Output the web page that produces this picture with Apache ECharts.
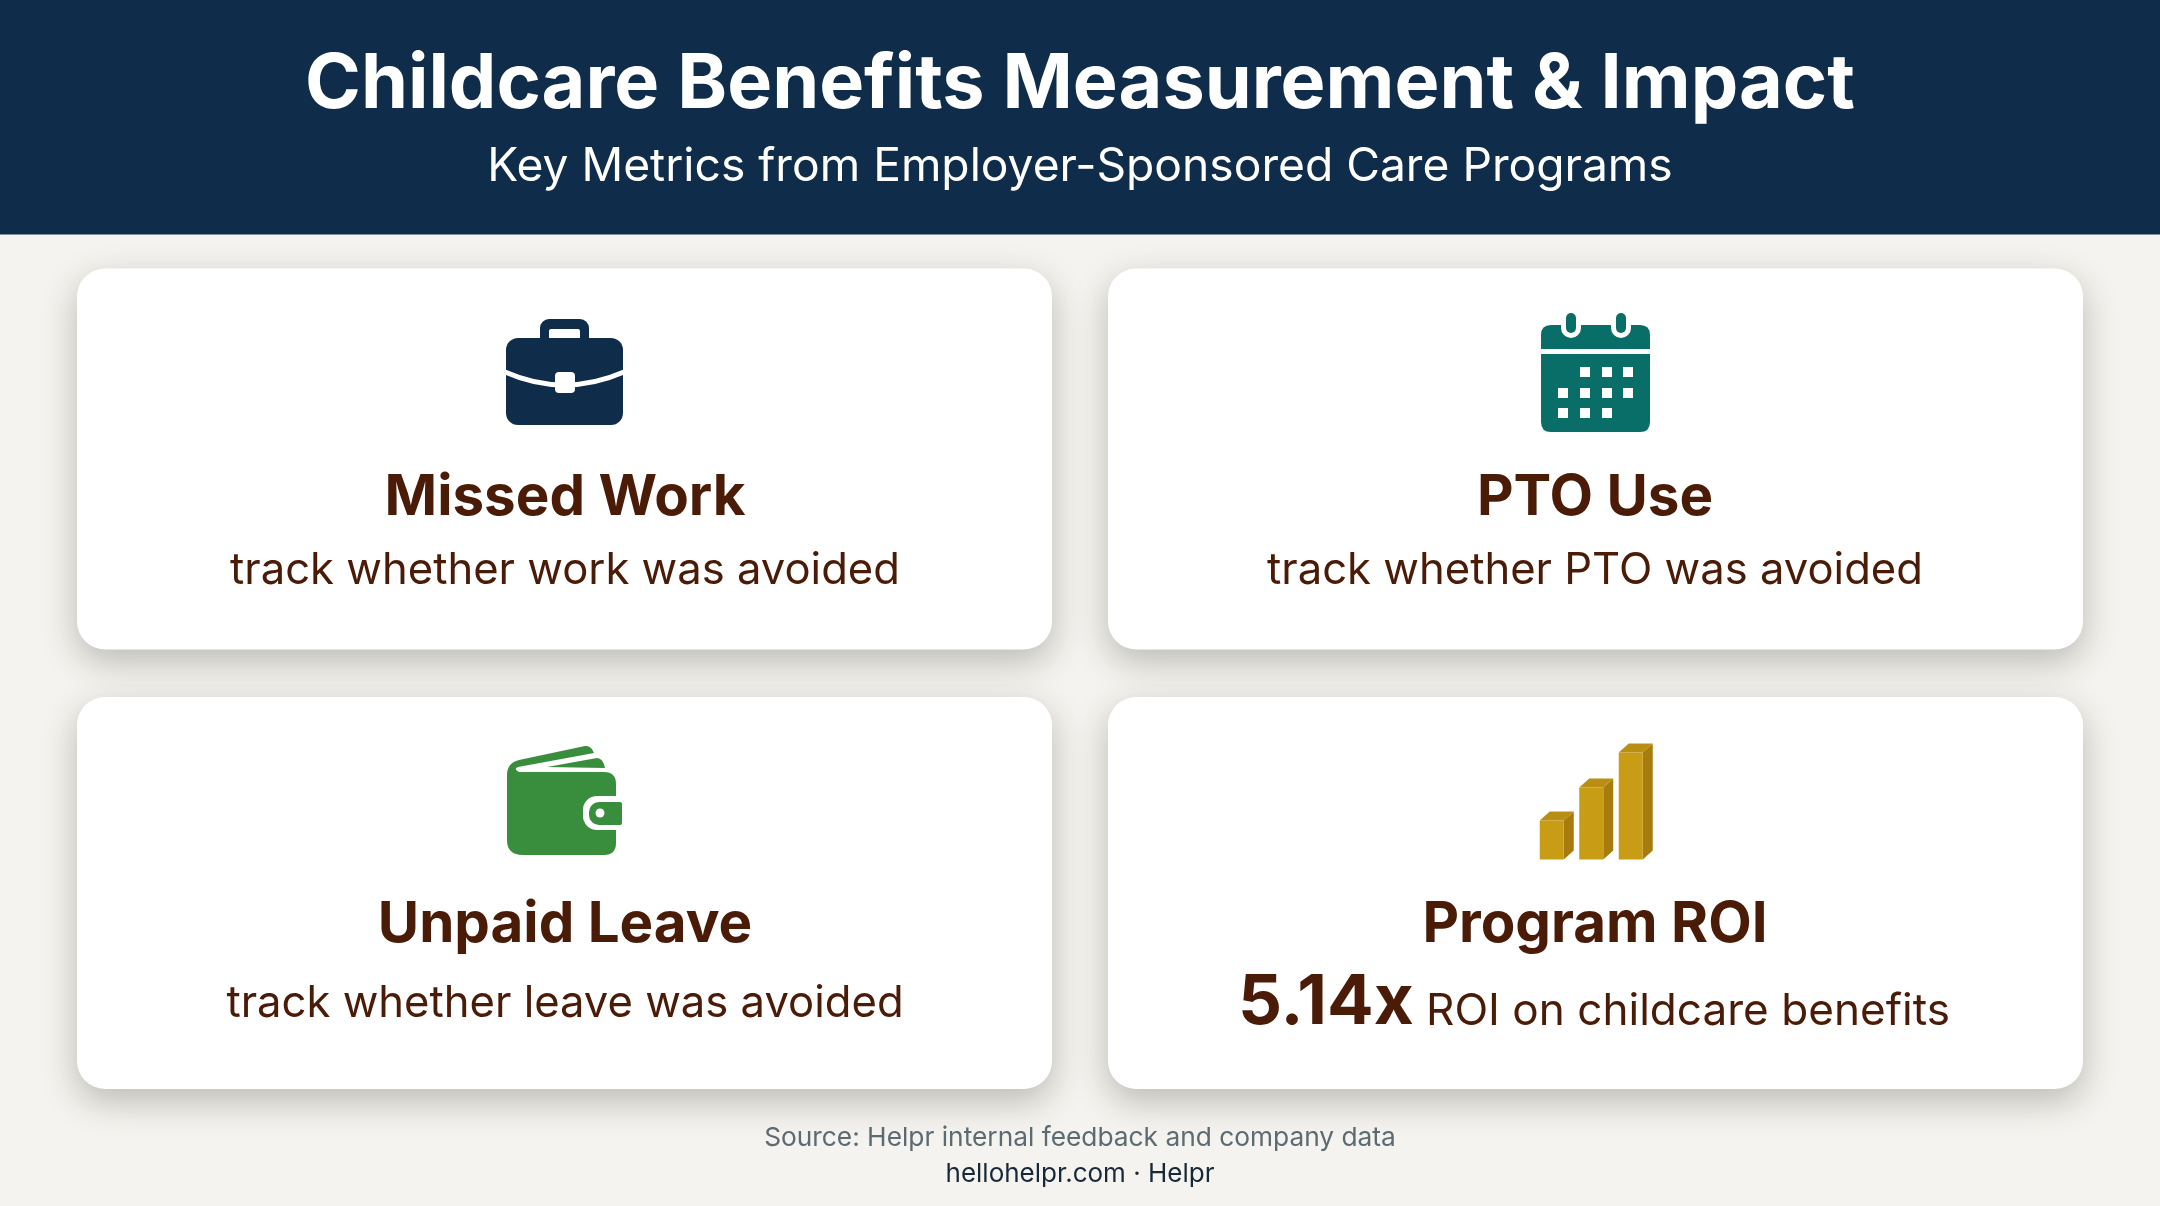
<!DOCTYPE html>
<html><head><meta charset="utf-8">
<style>html,body{margin:0;padding:0;background:#F4F3EF}#c{width:2160px;height:1206px}</style>
<script src="https://cdn.jsdelivr.net/npm/echarts@6/dist/echarts.min.js"></script>
</head><body><div id="c"></div>
<script>
const headerTitle = 'Childcare Benefits Measurement & Impact';
const headerSubtitle = 'Key Metrics from Employer-Sponsored Care Programs';
const cardTitles = ['Missed Work', 'PTO Use', 'Unpaid Leave', 'Program ROI'];
const cardNotes = ['track whether work was avoided', 'track whether PTO was avoided', 'track whether leave was avoided'];
const roiValue = '5.14x';
const roiNote = 'ROI on childcare benefits';
const sourceLine = 'Source: Helpr internal feedback and company data';
const siteLine = 'hellohelpr.com · Helpr';
const roiBarCategories = ['a', 'b', 'c'];
const roiBarHeights = [39, 72, 107];

const FONT = 'Inter';
const NAVY = '#0F2D4A', TEAL = '#0A6E68', GREEN = '#388E3C', BROWN = '#4A1B07', WHITE = '#FFFFFF';
const colX = [77, 1108], rowY = [268.5, 697], cardW = 975, cardH = [381, 392];
const centers = [565, 1595];

function txt(t, x, y, size, weight, fill, align) {
  return {type:'text', z:3, x, y,
    style:{text:t, fontFamily:FONT, fontSize:size, fontWeight:weight, fill, align:align||'center', verticalAlign:'middle'}};
}
function p(d, x, y, w, h, fill) {
  return {type:'path', shape:{pathData:d, x, y, width:w, height:h, layout:'cover'}, style:{fill}};
}
function r(x, y, w, h, fill, rad, extra) {
  return {type:'rect', z:3, shape:{x, y, width:w, height:h, r:rad||0}, style:Object.assign({fill}, extra||{})};
}

const els = [];
els.push(r(0, 0, 2160, 234.5, NAVY));
els.push(txt(headerTitle, 1080, 85, 75.5, 700, WHITE));
els.push(txt(headerSubtitle, 1080, 167, 46.2, 400, WHITE));
[0,1].forEach(j => [0,1].forEach(i => {
  els.push(Object.assign(r(colX[i], rowY[j], cardW, cardH[j], WHITE, 28,
    {shadowBlur:34, shadowOffsetY:12, shadowColor:'rgba(40,40,30,0.28)'}), {z:2}));
}));
// card text
els.push(txt(cardTitles[0], centers[0], 498, 56.5, 700, BROWN));
els.push(txt(cardTitles[1], centers[1], 498, 56.5, 700, BROWN));
els.push(txt(cardTitles[2], centers[0], 925, 56.5, 700, BROWN));
els.push(txt(cardTitles[3], centers[1], 925, 56.5, 700, BROWN));
els.push(txt(cardNotes[0], centers[0], 570.5, 43.6, 400, BROWN));
els.push(txt(cardNotes[1], centers[1], 570.5, 43.6, 400, BROWN));
els.push(txt(cardNotes[2], centers[0], 1004, 43.6, 400, BROWN));
els.push(txt(roiValue, 1238, 1003, 69, 700, BROWN, 'left'));
els.push(txt(roiNote, 1426, 1012, 44.1, 400, BROWN, 'left'));
els.push(txt(sourceLine, 1080, 1138, 26.3, 400, '#5C6A72'));
els.push(txt(siteLine, 1080, 1174, 26, 400, '#172838'));

const icon = [];
// briefcase
icon.push(r(540, 319, 49, 30, NAVY, 9));
icon.push(r(549, 329, 31, 14, WHITE, 2));
icon.push(r(506, 338, 117, 87, NAVY, 12));
icon.push({type:'path', shape:{pathData:'M506 372 Q564 398 623 372', x:505, y:372, width:119, height:13, layout:'cover'},
  style:{fill:'none', stroke:WHITE, lineWidth:5}});
icon.push(r(555, 372, 20, 21, WHITE, 4));
// calendar
icon.push(p('M1551 325 H1640 Q1650 325 1650 335 V349 H1541 V335 Q1541 325 1551 325 Z', 1541, 325, 109, 24, TEAL));
icon.push(p('M1541 354 H1650 V422 Q1650 432 1640 432 H1551 Q1541 432 1541 422 Z', 1541, 354, 109, 78, TEAL));
[1566, 1616].forEach(x => {
  icon.push(r(x-5, 309, 20, 29, WHITE, 10));
  icon.push(r(x, 313, 10, 20, TEAL, 5));
});
const calCols = [1563, 1585, 1607, 1628], calRows = [372, 393, 413];
[[1,2,3],[0,1,2,3],[0,1,2]].forEach((cols, ri) => cols.forEach(ci => {
  icon.push(r(calCols[ci]-5, calRows[ri]-5, 10, 10, WHITE));
}));
// wallet
icon.push(p('M507 775 Q507 763 519 760 L585 746 Q591 745 594 753 L518 767 Q513 769 519 772 H604 Q616 772 616 784 V843 Q616 855 604 855 H523 Q507 855 507 840 Z', 507, 746, 109, 109, GREEN));
icon.push(p('M547 767 L597 758 Q603 758 605 768 Z', 547, 758, 58, 10, GREEN));
icon.push(r(583, 796, 39, 34, WHITE, [14,0,0,14]));
icon.push(r(589, 802, 33, 23, GREEN, [10,2,2,10]));
icon.push({type:'circle', shape:{cx:600, cy:813, r:4.5}, style:{fill:WHITE}});

const chart = echarts.init(document.getElementById('c'), null, {renderer:'canvas'});
chart.setOption({
  backgroundColor:'#F4F3EF',
  animation:false,
  graphic:{elements:els},
  grid:{left:1532, top:739.5, width:118.5, height:120},
  xAxis:{type:'category', data:roiBarCategories, show:false},
  yAxis:{type:'value', min:0, max:120, show:false},
  series:[{
    type:'custom', z:5, clip:false,
    data:roiBarHeights.map((v,i)=>[i,v]),
    renderItem(params, api){
      const top = api.coord([api.value(0), api.value(1)]);
      const base = api.coord([api.value(0), 0]);
      const w = 24, dx = 10, dy = 9;
      const x0 = top[0]-w/2, x1 = x0+w, y0 = top[1], y1 = base[1];
      return {type:'group', children:[
        {type:'polygon', shape:{points:[[x1,y0],[x1+dx,y0-dy],[x1+dx,y1-dy],[x1,y1]]}, style:{fill:'#A87C0C'}},
        {type:'polygon', shape:{points:[[x0,y0],[x0+dx,y0-dy],[x1+dx,y0-dy],[x1,y0]]}, style:{fill:'#B98E12'}},
        {type:'rect', shape:{x:x0, y:y0, width:w, height:y1-y0}, style:{fill:'#C99C16'}}
      ]};
    }
  },{
    type:'custom', z:5, coordinateSystem:'none', data:[[0]],
    renderItem(){ return {type:'group', children:icon}; }
  }]
});
</script></body></html>
